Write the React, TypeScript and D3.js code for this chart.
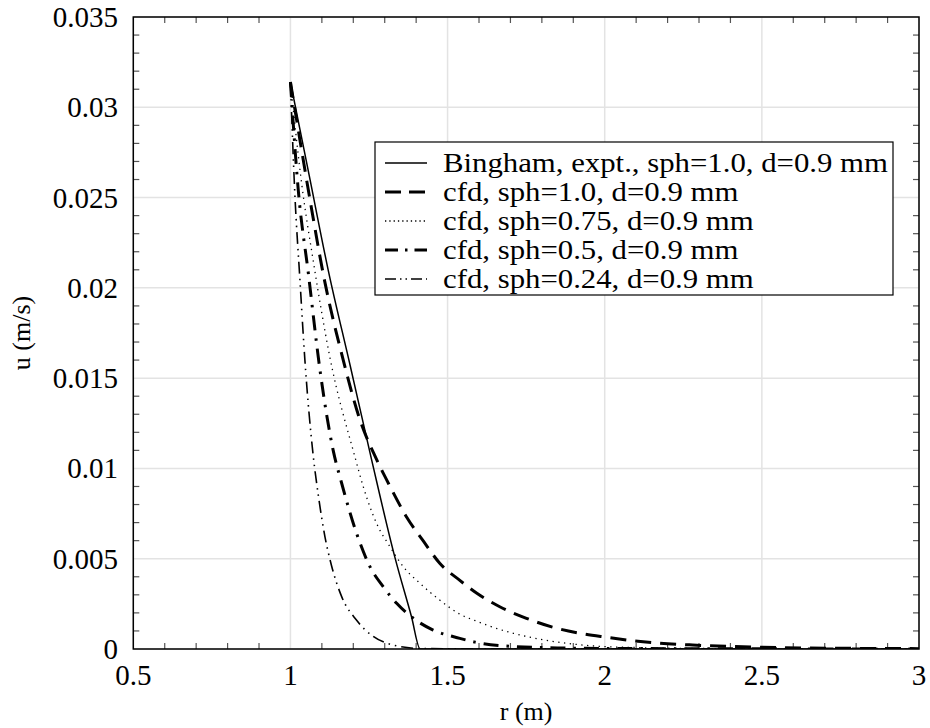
import React from "react";
import * as d3 from "d3";

const xTicks = [0.5, 1, 1.5, 2, 2.5, 3];
const yTicks = [0, 0.005, 0.01, 0.015, 0.02, 0.025, 0.03, 0.035];
const xTickLabels = ["0.5", "1", "1.5", "2", "2.5", "3"];
const yTickLabels = ["0", "0.005", "0.01", "0.015", "0.02", "0.025", "0.03", "0.035"];

const seriesNames = [
  "Bingham, expt., sph=1.0, d=0.9 mm",
  "cfd, sph=1.0, d=0.9 mm",
  "cfd, sph=0.75, d=0.9 mm",
  "cfd, sph=0.5, d=0.9 mm",
  "cfd, sph=0.24, d=0.9 mm",
];

const rBingham = [1.0, 1.06, 1.12, 1.19, 1.258, 1.332, 1.385, 1.413, 2.0, 3.0];
const uBingham = [0.0314, 0.0262, 0.021, 0.0157, 0.0105, 0.0051, 0.0018, 0.0, 0.0, 0.0];

const rSph100 = [1.0, 1.067, 1.104, 1.168, 1.221, 1.274, 1.317, 1.37, 1.422, 1.475, 1.539, 1.592, 1.666, 1.751, 1.836, 1.921, 2.006, 2.09, 2.175, 2.28, 2.4, 2.55, 2.75, 3.0];
const uSph100 = [0.0314, 0.0244, 0.0208, 0.016, 0.0127, 0.0105, 0.009, 0.0073, 0.006, 0.00475, 0.0038, 0.0031, 0.00234, 0.0017, 0.0012, 0.00087, 0.00065, 0.00046, 0.00032, 0.00022, 0.00014, 0.00008, 0.00004, 0.00002];

const rSph075 = [1.0, 1.0355, 1.0725, 1.125, 1.205, 1.2315, 1.274, 1.3165, 1.359, 1.412, 1.475, 1.539, 1.597, 1.624, 1.709, 1.794, 1.878, 1.963, 2.1, 2.3, 2.6, 3.0];
const uSph075 = [0.0314, 0.0258, 0.0215, 0.0162, 0.01065, 0.009, 0.00696, 0.00567, 0.00456, 0.00364, 0.00271, 0.00193, 0.00151, 0.00133, 0.00087, 0.00054, 0.00032, 0.00017, 0.00008, 0.00003, 0.00001, 0.0];

const rSph050 = [1.0, 1.025, 1.057, 1.094, 1.136, 1.163, 1.216, 1.253, 1.295, 1.338, 1.391, 1.454, 1.539, 1.587, 1.698, 1.85, 2.0, 2.5, 3.0];
const uSph050 = [0.0314, 0.0254, 0.0208, 0.01545, 0.011, 0.00918, 0.00613, 0.00456, 0.00345, 0.00253, 0.0017, 0.00105, 0.00059, 0.00038, 0.00015, 0.00006, 0.00003, 0.00001, 0.0];

const rSph024 = [1.0, 1.014, 1.03, 1.046, 1.0725, 1.088, 1.11, 1.131, 1.163, 1.21, 1.263, 1.327, 1.41, 1.6, 3.0];
const uSph024 = [0.0314, 0.0252, 0.0205, 0.016, 0.0107, 0.0086, 0.0062, 0.0046, 0.0029, 0.0016, 0.0007, 0.00022, 0.00003, 0.0, 0.0];

const W = 930;
const H = 728;
const M = { left: 133.3, right: 919, top: 17, bottom: 649 };
const FONT = "'Liberation Serif', 'Times New Roman', serif";

const styles = [
  { width: 1.5, dash: "" },
  { width: 3, dash: "16,9" },
  { width: 1.3, dash: "1.3,4.5" },
  { width: 3, dash: "15,8,2.5,8" },
  { width: 1.6, dash: "12,5,1.5,5,1.5,5" },
];
const legendDash = ["", "16,8", "1.3,3", "13,7,2.5,7", "11,4,1.5,4,1.5,4"];

export default function App() {
  const x = d3.scaleLinear().domain([0.5, 3]).range([M.left, M.right]);
  const y = d3.scaleLinear().domain([0, 0.035]).range([M.bottom, M.top]);

  const series = [
    [rBingham, uBingham],
    [rSph100, uSph100],
    [rSph075, uSph075],
    [rSph050, uSph050],
    [rSph024, uSph024],
  ];
  const line = d3
    .line<[number, number]>()
    .x((d) => x(d[0]))
    .y((d) => y(d[1]))
    .curve(d3.curveMonotoneX);

  const xMinor = d3.range(0.6, 3.0, 0.1).filter((v) => Math.abs(v * 2 - Math.round(v * 2)) > 1e-6);
  const yMinor = d3.range(1, 35).filter((i) => i % 5 !== 0).map((i) => i * 0.001);
  const tl = 6;
  const tickColor = "#555";

  const legX = 375, legY = 142, legW = 518, legH = 153;
  const rowY = (i: number) => 163 + i * 29;

  return (
    <svg width={W} height={H} style={{ position: "absolute", left: 0, top: 0, background: "#fff" }} fontFamily={FONT}>
      <rect x={0} y={0} width={W} height={H} fill="#fff" />
      {xTicks.map((t) => (
        <line key={"gx" + t} x1={x(t)} x2={x(t)} y1={M.top} y2={M.bottom} stroke="#e3e3e3" strokeWidth={1.5} />
      ))}
      {yTicks.map((t) => (
        <line key={"gy" + t} x1={M.left} x2={M.right} y1={y(t)} y2={y(t)} stroke="#e3e3e3" strokeWidth={1.5} />
      ))}
      {xMinor.map((t) => (
        <g key={"mx" + t}>
          <line x1={x(t)} x2={x(t)} y1={M.bottom} y2={M.bottom - tl} stroke={tickColor} strokeWidth={1.2} />
          <line x1={x(t)} x2={x(t)} y1={M.top} y2={M.top + tl} stroke={tickColor} strokeWidth={1.2} />
        </g>
      ))}
      {yMinor.map((t) => (
        <g key={"my" + t}>
          <line x1={M.left} x2={M.left + tl} y1={y(t)} y2={y(t)} stroke={tickColor} strokeWidth={1.2} />
          <line x1={M.right} x2={M.right - tl} y1={y(t)} y2={y(t)} stroke={tickColor} strokeWidth={1.2} />
        </g>
      ))}
      <defs>
        <clipPath id="clip">
          <rect x={M.left} y={M.top - 2} width={M.right - M.left} height={M.bottom - M.top + 2} />
        </clipPath>
      </defs>
      <g clipPath="url(#clip)">
        {series.map(([rs, us], i) => (
          <path
            key={"s" + i}
            d={line(rs.map((r, j) => [r, us[j]] as [number, number])) || ""}
            fill="none"
            stroke="#000"
            strokeWidth={styles[i].width}
            strokeDasharray={styles[i].dash}
          />
        ))}
      </g>
      <rect x={M.left} y={M.top} width={M.right - M.left} height={M.bottom - M.top} fill="none" stroke="#000" strokeWidth={1.5} />
      {xTicks.map((t, i) => (
        <text key={"tx" + t} x={x(t)} y={685} textAnchor="middle" fontSize={29} fill="#000">
          {xTickLabels[i]}
        </text>
      ))}
      {yTicks.map((t, i) => (
        <text key={"ty" + t} x={118} y={y(t) + 10} textAnchor="end" fontSize={29} fill="#000">
          {yTickLabels[i]}
        </text>
      ))}
      <text x={(M.left + M.right) / 2} y={720} textAnchor="middle" fontSize={26} fill="#000">
        r (m)
      </text>
      <text
        transform={`translate(30,${(M.top + M.bottom) / 2}) rotate(-90)`}
        textAnchor="middle"
        fontSize={26}
        fill="#000"
      >
        u (m/s)
      </text>
      <rect x={legX} y={legY} width={legW} height={legH} fill="#fff" stroke="#000" strokeWidth={1.2} />
      {seriesNames.map((name, i) => (
        <g key={"l" + i}>
          <line
            x1={385}
            x2={427}
            y1={rowY(i)}
            y2={rowY(i)}
            stroke="#000"
            strokeWidth={styles[i].width}
            strokeDasharray={legendDash[i]}
          />
          <text transform={`translate(443,${rowY(i) + 9}) scale(1.14,1)`} fontSize={27} fill="#000">
            {name}
          </text>
        </g>
      ))}
    </svg>
  );
}
